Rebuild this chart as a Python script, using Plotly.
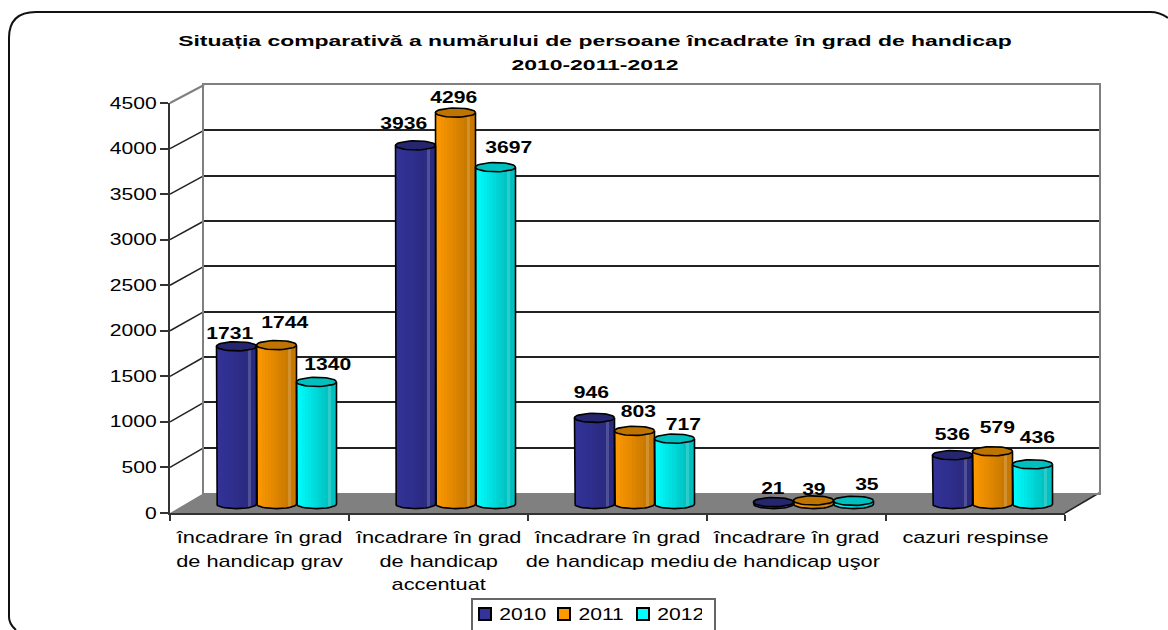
import math
import plotly.graph_objects as go

# ---------- data ----------
categories = ["încadrare în grad<br>de handicap grav",
              "încadrare în grad<br>de handicap<br>accentuat",
              "încadrare în grad<br>de handicap mediu",
              "încadrare în grad<br>de handicap uşor",
              "cazuri respinse"]
series_names = ["2010", "2011", "2012"]
values_2010 = [1731, 3936, 946, 21, 536]
values_2011 = [1744, 4296, 803, 39, 579]
values_2012 = [1340, 3697, 717, 35, 436]
y_ticks = [0, 500, 1000, 1500, 2000, 2500, 3000, 3500, 4000, 4500]
title_text = ("Situația comparativă a numărului de persoane încadrate în grad de handicap"
              "<br>2010-2011-2012")

# ---------- styling / layout (pixels) ----------
W, H = 1168, 630
FONT = "Liberation Sans, Arial, sans-serif"
base_colors = ["#333399", "#FF9900", "#00FFFF"]
dark_colors = ["#2A2A80", "#C87800", "#00C0C0"]
cap_colors = ["#26266F", "#BF7300", "#00BFBF"]
all_values = [values_2010, values_2011, values_2012]

# label offsets from the bar top, pixels (hand placed in the original)
label_dx = [[-7, 8, 11], [-12, -2, 13], [-3, 4, 9], [-1, 0, 13], [0, 5, 5]]
label_dy = [[13, 23, 17], [22, 15, 20], [25, 19, 14], [14, 11, 16], [21, 24, 27]]


def px(x):
    return x / W


def py(y):
    return 1 - y / H


FRONT_L, FRONT_R, FRONT_B, FRONT_T = 170, 1065, 513, 103
BACK_L, BACK_R, BACK_B, BACK_T = 204, 1099, 493, 85
MID_L, MID_R = 187, 1082
MID_0, MID_SCALE = 504, 410 / 4500
Y3_MIN = -200
CAT_PX = (FRONT_R - FRONT_L) / 5
BAR_PX = 40
HALF_H_PX = 4.6

fig = go.Figure()

# invisible carrier traces so the front and back axes exist
fig.add_trace(go.Scatter(x=categories, y=[0] * 5, mode="lines", opacity=0, showlegend=False,
                         hoverinfo="skip", xaxis="x", yaxis="y"))
fig.add_trace(go.Scatter(x=[0, 4], y=[0, 4500], mode="lines", opacity=0, showlegend=False,
                         hoverinfo="skip", xaxis="x2", yaxis="y2"))

bar_w = BAR_PX / CAT_PX
half_h = HALF_H_PX / MID_SCALE
N = 14


def lerp(a, b, t):
    ca = [int(a[i:i + 2], 16) for i in (1, 3, 5)]
    cb = [int(b[i:i + 2], 16) for i in (1, 3, 5)]
    return "#%02x%02x%02x" % tuple(round(p + (q - p) * t) for p, q in zip(ca, cb))


groups = list(range(5))
for s, vals in enumerate(all_values):
    left = (s - 1.5) * bar_w
    for k in range(N):
        u0 = k / N
        um = (k + .5) / N
        dip = half_h * math.sqrt(max(0, 1 - (2 * um - 1) ** 2))
        t = min(1, um * 1.25)
        colour = lerp(base_colors[s], dark_colors[s], t)
        if k == 11:
            colour = lerp(dark_colors[s], "#FFFFFF", .18)
        fig.add_trace(go.Bar(x=groups, y=[v + dip for v in vals], base=-dip,
                             width=bar_w / N * 1.04, offset=left + u0 * bar_w,
                             marker=dict(color=colour, line=dict(width=0)),
                             showlegend=False, hoverinfo="skip", xaxis="x3", yaxis="y3"))
    # outline and cap
    ox, oy, cx_, cy_ = [], [], [], []
    for g, v in zip(groups, vals):
        xl = g + left
        xr = xl + bar_w
        ox += [xl]
        oy += [v]
        for i in range(25):
            a = math.pi - math.pi * i / 24
            ox.append(g + left + bar_w / 2 + bar_w / 2 * math.cos(a))
            oy.append(-half_h * math.sin(a))
        ox += [xr, None]
        oy += [v, None]
        for i in range(41):
            a = 2 * math.pi * i / 40
            cx_.append(g + left + bar_w / 2 + bar_w / 2 * math.cos(a))
            cy_.append(v + half_h * math.sin(a))
        cx_.append(None)
        cy_.append(None)
    fig.add_trace(go.Scatter(x=ox, y=oy, mode="lines", line=dict(color="#000", width=1.6),
                             showlegend=False, hoverinfo="skip", xaxis="x3", yaxis="y3"))
    fig.add_trace(go.Scatter(x=cx_, y=cy_, mode="lines", fill="toself", fillcolor=cap_colors[s],
                             line=dict(color="#000", width=1.6),
                             showlegend=False, hoverinfo="skip", xaxis="x3", yaxis="y3"))
    # legend entry
    fig.add_trace(go.Bar(x=[None], y=[None], name=series_names[s],
                         marker=dict(color=base_colors[s], line=dict(color="#000", width=2)),
                         xaxis="x3", yaxis="y3"))

# value labels
annotations = []
for s, vals in enumerate(all_values):
    for g, v in zip(groups, vals):
        annotations.append(dict(x=g + (s - 1) * bar_w, y=v, xref="x3", yref="y3", text=str(v),
                                showarrow=False, xshift=label_dx[g][s], yshift=label_dy[g][s],
                                font=dict(family=FONT, size=16, color="#000", weight="bold"),
                                xanchor="center", yanchor="middle"))

# walls, floor, frame, legend box
shapes = []


def line(x0, y0, x1, y1, colour, width=1.5):
    shapes.append(dict(type="line", xref="paper", yref="paper", x0=px(x0), y0=py(y0),
                       x1=px(x1), y1=py(y1), line=dict(color=colour, width=width), layer="below"))


floor = f"M{px(FRONT_L)},{py(FRONT_B)} L{px(FRONT_R)},{py(FRONT_B)} L{px(BACK_R)},{py(BACK_B)} L{px(BACK_L)},{py(BACK_B)} Z"
shapes.append(dict(type="path", xref="paper", yref="paper", path=floor, fillcolor="#808080",
                   line=dict(width=0), layer="below"))
line(FRONT_R, FRONT_B, BACK_R, BACK_B, "#222")
for v in y_ticks[1:-1]:
    line(FRONT_L, FRONT_B - v * 410 / 4500, BACK_L, BACK_B - v * 408 / 4500, "#222")
line(FRONT_L, FRONT_T, BACK_L, BACK_T, "#808080", 2)

frame_pts = (f"M{px(1168)},{py(18)} Q{px(1160)},{py(12)} {px(1150)},{py(12)} L{px(36)},{py(12)} "
             f"Q{px(9)},{py(12)} {px(9)},{py(38)} L{px(9)},{py(617)} Q{px(9)},{py(624)} {px(16)},{py(630)}")
shapes.append(dict(type="path", xref="paper", yref="paper", path=frame_pts,
                   line=dict(color="#111", width=2)))
box = f"M{px(472)},{py(630)} L{px(472)},{py(599)} L{px(715)},{py(599)} L{px(715)},{py(630)}"
shapes.append(dict(type="path", xref="paper", yref="paper", path=box,
                   line=dict(color="#666", width=2)))

axis_font = dict(family=FONT, size=16, color="#000")
fig.update_layout(
    width=W, height=H, margin=dict(l=0, r=0, t=0, b=0, autoexpand=False), autosize=False,
    paper_bgcolor="#fff", plot_bgcolor="rgba(0,0,0,0)", hovermode=False,
    barmode="overlay", bargap=0,
    title=dict(text=title_text, x=595 / W, xanchor="center", y=py(46), yanchor="top",
               font=dict(family=FONT, size=15, color="#000", weight="bold")),
    legend=dict(orientation="h", x=px(465), xanchor="left", y=py(597), yanchor="top",
                bgcolor="rgba(0,0,0,0)", borderwidth=0, font=axis_font,
                entrywidthmode="pixels", entrywidth=34, itemclick=False, itemdoubleclick=False),
    xaxis=dict(domain=[px(FRONT_L), px(FRONT_R)], type="category", categoryorder="array",
               categoryarray=categories, range=[-.5, 4.5], tickson="boundaries", ticks="outside",
               ticklen=6, tickwidth=1.5, tickcolor="#333", showline=True, linecolor="#333", linewidth=2,
               showgrid=False, zeroline=False, tickangle=0, tickfont=axis_font, anchor="y",
               ticklabelstandoff=9, fixedrange=True),
    yaxis=dict(domain=[py(FRONT_B), py(FRONT_T)], range=[0, 4500], tickvals=y_ticks,
               ticks="outside", ticklen=8, tickwidth=1.5, tickcolor="#333", showline=True,
               linecolor="#333", linewidth=2, showgrid=False, zeroline=False, tickfont=axis_font,
               anchor="x", fixedrange=True),
    xaxis2=dict(domain=[px(BACK_L), px(BACK_R)], range=[-.5, 4.5], showticklabels=False, ticks="",
                showgrid=False, zeroline=False, showline=True, linecolor="#808080", linewidth=2,
                mirror=True, anchor="y2", fixedrange=True),
    yaxis2=dict(domain=[py(BACK_B), py(BACK_T)], range=[0, 4500], tickvals=y_ticks[1:-1],
                showticklabels=False, ticks="", showgrid=True, gridcolor="#222", gridwidth=1.5,
                zeroline=False, showline=True, linecolor="#808080", linewidth=2, mirror=True,
                anchor="x2", fixedrange=True),
    xaxis3=dict(domain=[px(MID_L), px(MID_R)], range=[-.5, 4.5], visible=False, anchor="y3",
                fixedrange=True),
    yaxis3=dict(domain=[py(MID_0 - Y3_MIN * MID_SCALE), py(MID_0 - 4500 * MID_SCALE)],
                range=[Y3_MIN, 4500], visible=False, anchor="x3", fixedrange=True),
    annotations=annotations, shapes=shapes,
)

post = """
var gd = document.getElementById('{plot_id}');
function stretch() {
  document.body.style.margin = '0';
  var rules = [['.xtick text', 1.36, 'c', 1.47], ['.ytick text', 1.32, 'r', 1.47],
               ['.annotation-text', 1.32, 'c', 1.47],
               ['.gtitle', 1.53, 'c', 1.58], ['.legendtext', 1.32, 'c', 1.47]];
  rules.forEach(function (r) {
    gd.querySelectorAll(r[0]).forEach(function (t) {
      if (t.getAttribute('data-st')) return;
      var b = t.getBBox();
      var c = r[2] === 'r' ? b.x + b.width + 0 : b.x + b.width / 2;
      var old = t.getAttribute('transform') || '';
      t.setAttribute('transform', old + ' translate(' + c + ',0) scale(' + r[1] + ',1) translate(' + (-c) + ',0)');
      t.setAttribute('data-st', '1');
      t.querySelectorAll('tspan.line').forEach(function (s, i) {
        s.setAttribute('dy', (i * r[3]) + 'em');
      });
    });
  });
}
stretch();
setTimeout(stretch, 100);
"""
fig.write_html("out.html", post_script=post, config={"displayModeBar": False})
